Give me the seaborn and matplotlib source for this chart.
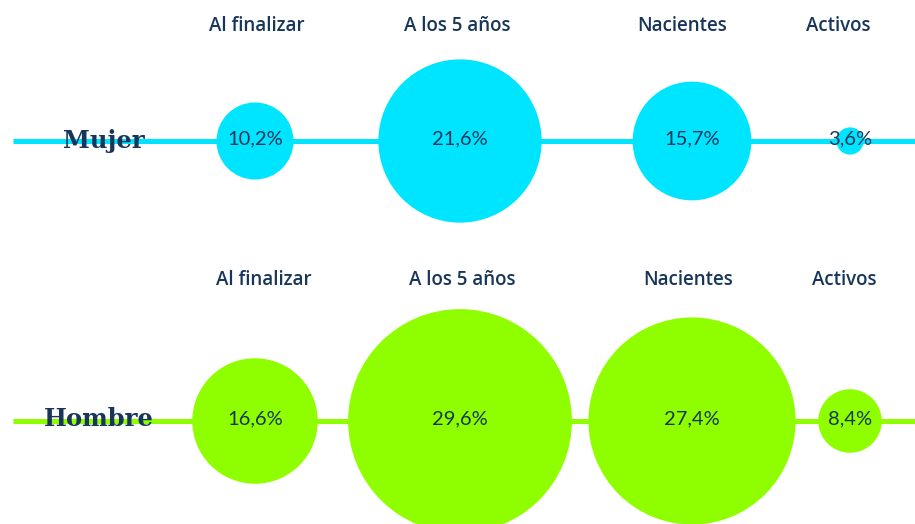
import pandas as pd
import matplotlib.pyplot as plt
import seaborn as sns

# data
categorias = ["Al finalizar", "A los 5 años", "Nacientes", "Activos"]
mujer = [10.2, 21.6, 15.7, 3.6]
hombre = [16.6, 29.6, 27.4, 8.4]
grupos = ["Mujer", "Hombre"]

# layout (pixel coords)
x_pos = [255, 460, 692, 850]
row_y = {"Mujer": 141, "Hombre": 421}
head_y = {"Mujer": 26, "Hombre": 280}
head_dx = {"Mujer": [2, -3, -10, -12], "Hombre": [9, 2, -4, -6]}
colores = {"Mujer": "#00E5FF", "Hombre": "#8FFF00"}
navy = "#18365A"
px_per_unit = 3.78  # bubble radius in px per percentage point

sns.set_style("white")
plt.rcParams['font.family'] = ['Lato', 'DejaVu Sans']

rows = []
for g, vals in zip(grupos, [mujer, hombre]):
    for c, x, v in zip(categorias, x_pos, vals):
        rows.append({"grupo": g, "categoria": c, "x": x, "y": row_y[g], "valor": v})
df = pd.DataFrame(rows)
# marker area in pt^2 (1 px = 0.72 pt at dpi 100)
df["s"] = (2 * df["valor"] * px_per_unit * 0.72) ** 2

fig = plt.figure(figsize=(9.15, 5.24), dpi=100)
ax = fig.add_axes([0, 0, 1, 1])

for g in grupos:
    sub = df[df["grupo"] == g]
    ax.hlines(row_y[g], 13, 915, color=colores[g], linewidth=3.6, zorder=1)
    sns.scatterplot(data=sub, x="x", y="y", s=sub["s"].values, color=colores[g],
                    linewidth=0, ax=ax, zorder=2, legend=False)
    for _, r in sub.iterrows():
        ax.text(r["x"], r["y"] - 2, f"{r['valor']:.1f}%".replace(".", ","),
                ha="center", va="center", fontsize=14.5, color=navy, zorder=3)
    for c, x, dx in zip(categorias, x_pos, head_dx[g]):
        ax.text(x + dx, head_y[g], c, ha="center", va="center",
                fontsize=13.5, color=navy, family="Open Sans", fontweight="semibold")

ax.text(104, 141, "Mujer", ha="center", va="center", fontsize=17.5,
        family="DejaVu Serif", fontweight="bold", color=navy, zorder=3)
ax.text(99, 419, "Hombre", ha="center", va="center", fontsize=17.5,
        family="DejaVu Serif", fontweight="bold", color=navy, zorder=3)

ax.set_xlim(0, 915)
ax.set_ylim(524, 0)
ax.axis("off")
plt.savefig("out.png", dpi=100)
